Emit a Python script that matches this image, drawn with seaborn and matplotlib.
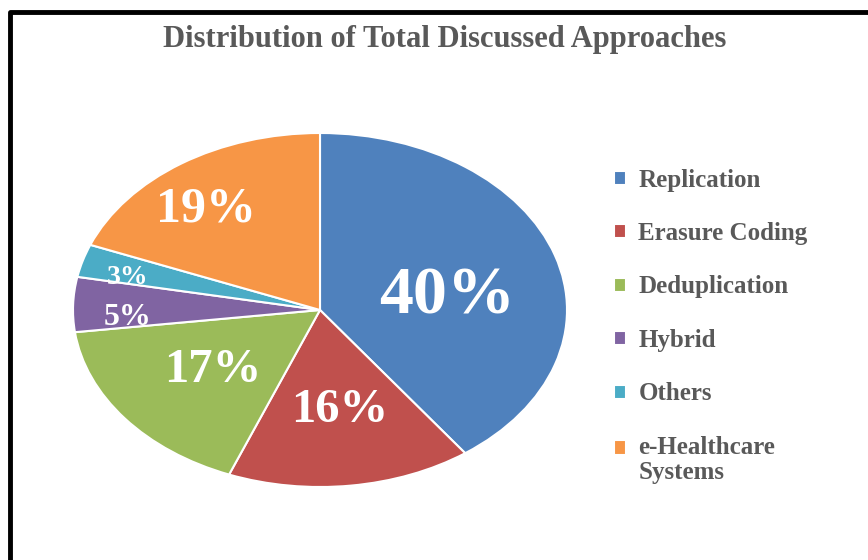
import numpy as np
import matplotlib.pyplot as plt
import seaborn as sns
from matplotlib.lines import Line2D
from matplotlib.patches import Rectangle
from matplotlib.legend_handler import HandlerPatch

# chart data
categories = ["Replication", "Erasure Coding", "Deduplication", "Hybrid", "Others",
              "e-Healthcare\nSystems"]
shares = [40, 16, 17, 5, 3, 19]
colors = ["#4F81BD", "#C0504D", "#9BBB59", "#8064A2", "#4BACC6", "#F79646"]

# label styling (distance from centre, angle nudge in degrees, font size)
label_dist = [0.52, 0.57, 0.55, 0.78, 0.80, 0.73]
label_nudge = [-10, 1, 0, 5, 3, 5]
label_size = [49, 35, 35, 23, 20, 36]

sns.set_theme(style="white")
plt.rcParams['font.family'] = ['Liberation Serif', 'DejaVu Serif']
TEXT = "#595959"

W, H = 868, 560
fig = plt.figure(figsize=(W / 100, H / 100), dpi=100)
# pie occupies an ellipse: centre (320, 310), radii 247 x 177 px
cx, cy, rx, ry = 320, 310, 247, 177
ax = fig.add_axes([(cx - rx) / W, (H - cy - ry) / H, 2 * rx / W, 2 * ry / H])

wedges, _ = ax.pie(shares, colors=colors, startangle=90, counterclock=False,
                   wedgeprops=dict(edgecolor="white", linewidth=1.5))
ax.set_aspect("auto")
ax.set_xlim(-1, 1)
ax.set_ylim(-1, 1)
ax.axis("off")

# percentage labels placed along each wedge's mid angle
total = sum(shares)
for w, v, d, n, s in zip(wedges, shares, label_dist, label_nudge, label_size):
    mid = np.deg2rad((w.theta1 + w.theta2) / 2 + n)
    ax.text(d * np.cos(mid), d * np.sin(mid), f"{round(100 * v / total)}%",
            ha="center", va="center", color="white", fontsize=s, fontweight="bold")

fig.text(445 / W, 1 - 39 / H, "Distribution of Total Discussed Approaches",
         ha="center", va="center", fontsize=22, fontweight="bold", color=TEXT)


def top_square(legend, orig_handle, xdescent, ydescent, width, height, fontsize):
    # keep the marker beside the first line of a two-line label
    return Rectangle((-xdescent, -ydescent + 0.5 * fontsize), width, height)


leg = fig.legend(wedges, categories, loc="upper left",
                 bbox_to_anchor=(591 / W, 1 - 146 / H), frameon=False,
                 handlelength=0.5, handleheight=0.5, handletextpad=0.5,
                 labelspacing=1.22, prop=dict(size=18, weight="bold"),
                 handler_map={wedges[-1]: HandlerPatch(patch_func=top_square)})
for t in leg.get_texts():
    t.set_color(TEXT)
    t.set_linespacing(1.1)

# black frame on left and top edges
fig.add_artist(Line2D([10 / W, 10 / W, 1.0], [0.0, 1 - 12 / H, 1 - 12 / H],
                      transform=fig.transFigure, color="black", linewidth=3.5,
                      solid_joinstyle="round"))

fig.savefig("out.png", dpi=100, facecolor="white")
